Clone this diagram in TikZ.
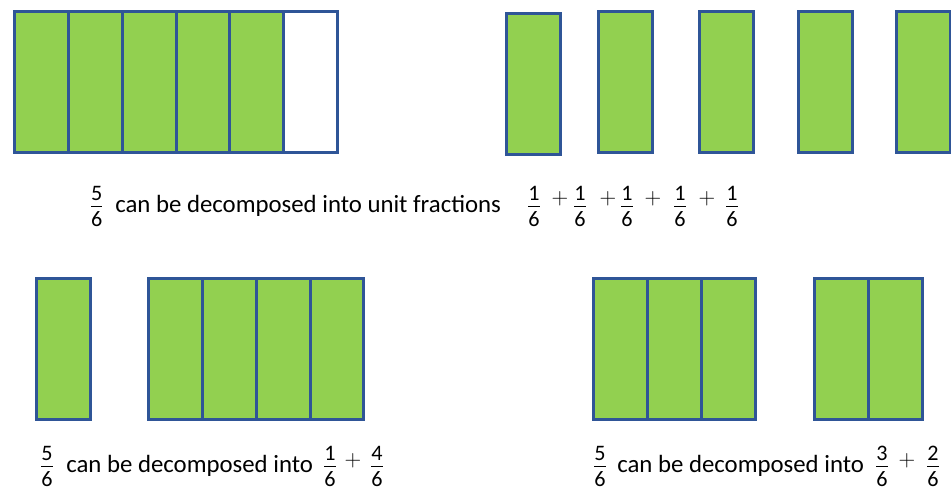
\documentclass[tikz,border=0pt]{standalone}
\usepackage{fontspec}
\setmainfont{Carlito}
\usepackage{amsmath}
\usetikzlibrary{positioning}
\definecolor{bargreen}{HTML}{92D050}
\definecolor{barblue}{HTML}{2F5597}
\newcommand{\digit}[1]{\mbox{\fontsize{16.6}{20}\selectfont #1}}
\newcommand{\fr}[2]{$\nulldelimiterspace=0pt\genfrac{}{}{0.9pt}{1}{\digit{#1}\rule[-3pt]{0pt}{3pt}}{\digit{#2}\rule{0pt}{13.5pt}}$}

\begin{document}
\begin{tikzpicture}[x=0.75pt,y=-0.75pt,
                    part/.style={rectangle,draw=barblue,fill=bargreen,line width=2.25pt,minimum width=40.4pt,minimum height=106pt,inner sep=0pt,outer sep=0pt},
                    blank/.style={part,fill=white},
                    words/.style={inner sep=0pt,anchor=base west,font=\fontsize{18.6}{22}\selectfont},
                    frac/.style={inner sep=0pt,font=\fontsize{18.6}{22}\selectfont},
                    plus/.style={inner sep=0pt,font=\fontsize{16}{20}\selectfont}]

  \useasboundingbox (0,0) rectangle (951,495);

  % five sixths
  \node[part,anchor=north west] (a1) at (14.5,11.5) {};
    \node[part] (a2) [right=0pt of a1] {};
  \node[part] (a3) [right=0pt of a2] {};
    \node[part] (a4) [right=0pt of a3] {};
  \node[part] (a5) [right=0pt of a4] {};
  \node[blank] (a6) [right=0pt of a5] {};

  % unit fractions
  \node[part,anchor=north west] (b1) at (506.5,13.5) {};
  \node[part,anchor=north west] (b2) at (598.5,11.5) {};
  \node[part,anchor=north west] (b3) at (699.5,11.5) {};
  \node[part,anchor=north west] (b4) at (798.5,11.5) {};
  \node[part,anchor=north west] (b5) at (896.5,11.5) {};

  % one and four
  \node[part,anchor=north west] (c1) at (36.5,278.5) {};
  \node[part,anchor=north west] (d1) at (148.5,278.5) {};
    \node[part] (d2) [right=0pt of d1] {};
  \node[part] (d3) [right=0pt of d2] {};
    \node[part] (d4) [right=0pt of d3] {};

  % three and two
  \node[part,anchor=north west] (e1) at (593.5,278.5) {};
    \node[part] (e2) [right=0pt of e1] {};
  \node[part] (e3) [right=0pt of e2] {};
  \node[part,anchor=north west] (g1) at (814.5,278.5) {};
    \node[part] (g2) [right=0pt of g1] {};

  % first sentence
  \node[frac] (q1) at (96.7,206.5) {\fr56};
  \node[words] (t1) at (115,213) {can be decomposed into unit fractions};
  \node[frac] (q2) at (534,206.5) {\fr16};
  \node[plus] (p1) at (560,199) {$+$};
  \node[frac] (q3) at (580,206.5) {\fr16};
  \node[plus] (p2) at (608,199) {$+$};
  \node[frac] (q4) at (627,206.5) {\fr16};
  \node[plus] (p3) at (653,199) {$+$};
  \node[frac] (q5) at (680,206.5) {\fr16};
  \node[plus] (p4) at (707,199) {$+$};
  \node[frac] (q6) at (732,206.5) {\fr16};

  % second sentence
  \node[frac] (r1) at (47,466.5) {\fr56};
  \node[words] (t2) at (66,473) {can be decomposed into};
  \node[frac] (r2) at (330,466.5) {\fr16};
  \node[plus] (p5) at (353,461) {$+$};
  \node[frac] (r3) at (377,466.5) {\fr46};

  % third sentence
  \node[frac] (s1) at (600,466.5) {\fr56};
  \node[words] (t3) at (617,473) {can be decomposed into};
  \node[frac] (s2) at (882,466.5) {\fr36};
  \node[plus] (p6) at (907,461) {$+$};
  \node[frac] (s3) at (933,466.5) {\fr26};
\end{tikzpicture}
\end{document}
